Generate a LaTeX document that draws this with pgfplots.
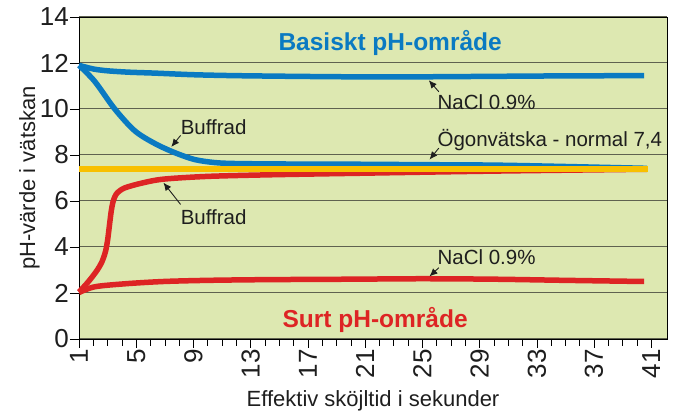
\documentclass[border=0pt]{standalone}
\usepackage{fontspec}
\setmainfont{Liberation Sans}
\usepackage{pgfplots}
\pgfplotsset{compat=1.18}
\usetikzlibrary{arrows.meta}
\definecolor{bgc}{RGB}{221,232,177}
\definecolor{gridc}{RGB}{95,98,80}
\definecolor{cblue}{RGB}{10,122,194}
\definecolor{cred}{RGB}{221,36,36}
\definecolor{cyel}{RGB}{248,192,0}
\definecolor{txt}{RGB}{30,30,30}
\begin{document}
\begin{tikzpicture}
\begin{axis}[
  at={(0,0)}, anchor=south west,
  scale only axis, width=588pt, height=322pt,
  xmin=1, xmax=42.1, ymin=0, ymax=14,
  xtick={1,5,...,41}, minor x tick num=3,
  ytick={0,2,...,14},
  tick pos=left, tick align=outside,
  major tick length=9pt, minor tick length=7pt,
  every tick/.style={black, line width=0.6pt},
  ymajorgrids, grid style={gridc, line width=1pt},
  axis line style={black, line width=0.8pt},
  axis background/.style={fill=bgc},
  /pgf/number format/assume math mode=true,
  ticklabel style={font=\fontsize{26}{26}\selectfont, text=txt},
  yticklabel style={inner sep=1pt},
  xticklabel style={rotate=90, anchor=east, inner sep=1pt},
  xlabel={Effektiv sköjltid i sekunder},
  ylabel={pH-värde i vätskan},
  label style={font=\fontsize{22}{22}\selectfont, text=txt},
  xlabel style={at={(axis description cs:0.5,-0.2081)}, anchor=base},
  ylabel style={at={(axis description cs:-0.0748,0.5)}, anchor=base},
  clip=false,
]
% blue NaCl
\addplot[cblue, line width=5.5pt, smooth] coordinates {
 (1,11.9) (2,11.74) (3,11.66) (4.5,11.6) (6.3,11.56) (9,11.49) (11.9,11.45) (16,11.42) (20,11.4) (25,11.4) (30,11.42) (35,11.44) (40.5,11.45)};
% blue buffered
\addplot[cblue, line width=5.5pt, smooth] coordinates {
 (1,11.9) (2.1,11.2) (3.5,10.0) (4.9,9.05) (6.3,8.5) (7.7,8.1) (9.1,7.8) (10.5,7.67) (11.9,7.63) (15,7.61) (20,7.6) (25,7.58) (30,7.56) (35,7.5) (40.7,7.42)};
% red NaCl
\addplot[cred, line width=5.5pt, smooth] coordinates {
 (1,2.02) (2.1,2.27) (4.2,2.4) (6.9,2.5) (10,2.55) (14,2.58) (20,2.6) (25,2.62) (30,2.6) (35,2.55) (40.5,2.5)};
% red buffered
\addplot[cred, line width=5.5pt, smooth] coordinates {
 (1,2.04) (1.5,2.38) (1.9,2.68) (2.3,3.02) (2.6,3.35) (2.85,3.8) (3.0,4.3) (3.12,4.9) (3.24,5.5) (3.36,5.92) (3.5,6.18) (3.7,6.37) (4.2,6.57) (5.4,6.78) (6.9,6.95) (10,7.07) (14.4,7.14) (20,7.2) (30,7.3) (40.7,7.38)};
% eye fluid
\addplot[cyel, line width=5.5pt] coordinates {(1,7.4) (40.8,7.4)};

\node[font=\bfseries\fontsize{24.5}{24.5}\selectfont, text=cblue] at (axis cs:22.75,12.85) {Basiskt pH-område};
\node[font=\bfseries\fontsize{24.5}{24.5}\selectfont, text=cred] at (axis cs:21.7,0.83) {Surt pH-område};

\begin{scope}[every node/.style={font=\fontsize{20.5}{20.5}\selectfont, text=txt, anchor=west, inner sep=0pt}]
\node at (axis cs:26.05,10.3) {NaCl 0.9\%};
\node at (axis cs:8.1,9.2) {Buffrad};
\node at (axis cs:26.05,8.65) {Ögonvätska - normal 7,4};
\node at (axis cs:8.1,5.3) {Buffrad};
\node at (axis cs:26.05,3.55) {NaCl 0.9\%};
\end{scope}
\begin{scope}[-{Latex[length=8pt,width=7pt]}, line width=0.9pt, txt]
\draw (axis cs:26.15,10.75) -- (axis cs:25.45,11.25);
\draw (axis cs:8.1,8.85) -- (axis cs:7.45,8.35);
\draw (axis cs:26.15,8.3) -- (axis cs:25.5,7.8);
\draw (axis cs:8.1,5.85) -- (axis cs:6.9,6.8);
\draw (axis cs:26.15,3.1) -- (axis cs:25.5,2.72);
\end{scope}
\end{axis}
\pgfresetboundingbox
\path (-79pt,-73pt) rectangle (601pt,339pt);
\end{tikzpicture}
\end{document}
